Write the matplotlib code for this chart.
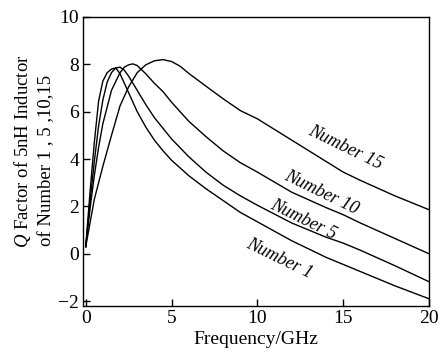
import matplotlib
matplotlib.use("Agg")
import matplotlib.pyplot as plt

plt.rcParams['font.family'] = ['Liberation Serif', 'DejaVu Serif']
plt.rcParams['mathtext.fontset'] = 'custom'
plt.rcParams['mathtext.rm'] = 'Liberation Serif'
plt.rcParams['mathtext.it'] = 'Liberation Serif:italic'

# Number 1
x1 = [0, 0.25, 0.5, 0.75, 1.0, 1.25, 1.5, 1.75, 2.0, 2.5, 3, 3.5, 4, 4.5, 5, 6, 7, 8, 9, 10, 12, 14, 15, 16, 18, 20]
q1 = [0.3, 2.6, 4.7, 6.45, 7.3, 7.65, 7.8, 7.85, 7.6, 6.8, 6.0, 5.35, 4.8, 4.35, 3.95, 3.3, 2.75, 2.25, 1.75, 1.35, 0.55, -0.15, -0.45, -0.75, -1.35, -1.9]
# Number 5
x5 = [0, 0.25, 0.5, 0.75, 1.0, 1.25, 1.5, 1.75, 2.0, 2.25, 2.5, 3, 3.5, 4, 4.5, 5, 6, 7, 8, 9, 10, 12, 14, 15, 16, 18, 20]
q5 = [0.3, 2.2, 3.9, 5.4, 6.5, 7.25, 7.65, 7.85, 7.88, 7.75, 7.5, 6.9, 6.3, 5.75, 5.3, 4.85, 4.1, 3.45, 2.9, 2.45, 2.05, 1.3, 0.7, 0.45, 0.15, -0.5, -1.18]
# Number 10
x10 = [0, 0.25, 0.5, 0.75, 1.0, 1.5, 2.0, 2.25, 2.5, 2.75, 3, 3.5, 4, 4.5, 5, 6, 7, 8, 9, 10, 12, 14, 15, 16, 18, 20]
q10 = [0.3, 1.9, 3.3, 4.5, 5.5, 6.9, 7.65, 7.88, 7.98, 8.02, 7.95, 7.6, 7.2, 6.85, 6.4, 5.6, 4.95, 4.35, 3.85, 3.45, 2.6, 1.95, 1.65, 1.3, 0.65, 0.0]
# Number 15
x15 = [0, 0.25, 0.5, 0.75, 1.0, 1.5, 2.0, 2.5, 3, 3.5, 4, 4.5, 5, 5.5, 6, 7, 8, 9, 10, 12, 14, 15, 16, 18, 20]
q15 = [0.3, 1.3, 2.3, 3.0, 3.7, 5.0, 6.25, 7.05, 7.65, 7.98, 8.15, 8.2, 8.12, 7.92, 7.62, 7.08, 6.55, 6.05, 5.7, 4.8, 3.9, 3.45, 3.1, 2.45, 1.86]

series = [(x1, q1), (x5, q5), (x10, q10), (x15, q15)]
labels = ["Number 1", "Number 5", "Number 10", "Number 15"]
label_pos = [(11.3, -0.2), (12.7, 1.45), (13.7, 2.6), (15.1, 4.5)]

xticks = [0, 5, 10, 15, 20]
yticks = [-2, 0, 2, 4, 6, 8, 10]

fig = plt.figure(figsize=(4.4, 3.54), dpi=100)
ax = fig.add_axes([0.189, 0.136, 0.786, 0.816])

for (xs, ys) in series:
    ax.plot(xs, ys, color='black', lw=1.0)

for lab, (lx, ly) in zip(labels, label_pos):
    ax.text(lx, ly, lab, fontsize=13, style='italic', rotation=-26,
            ha='center', va='center', rotation_mode='anchor')

ax.set_xlim(-0.15, 20)
ax.set_ylim(-2.2, 10)
ax.set_xticks(xticks)
ax.set_yticks(yticks)
ax.set_yticklabels(['\u22122' if t == -2 else str(t) for t in yticks])
ax.tick_params(direction='in', length=5, width=1, labelsize=14, pad=3)
for s in ax.spines.values():
    s.set_linewidth(1.0)

ax.set_xlabel('Frequency/GHz', fontsize=14, labelpad=3)

fig.text(0.052, 0.30, '$Q$ Factor of 5nH Inductor', rotation=90,
         fontsize=13.5, ha='center', va='bottom')
fig.text(0.107, 0.305, 'of Number 1 , 5 ,10,15', rotation=90,
         fontsize=13.5, ha='center', va='bottom')

fig.savefig('out.png', dpi=100)
